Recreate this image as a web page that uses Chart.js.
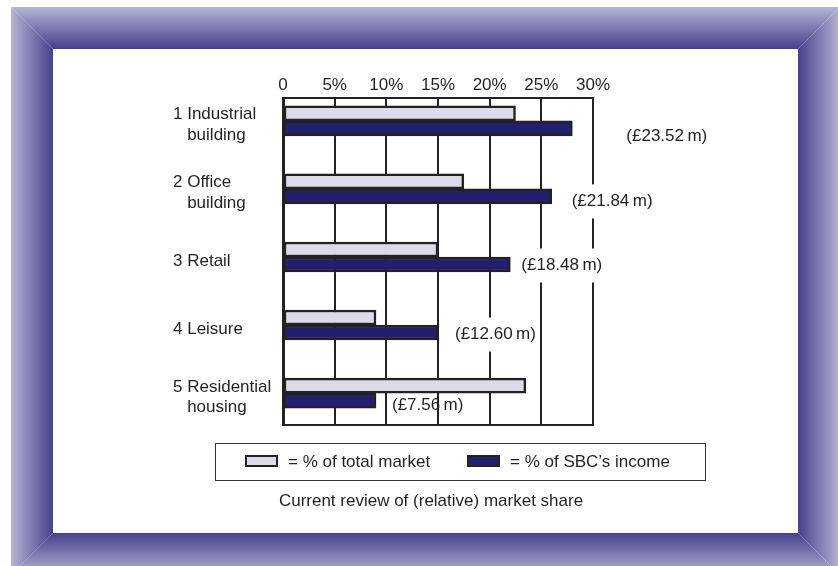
<!DOCTYPE html>
<html>
<head>
<meta charset="utf-8">
<title>Current review of (relative) market share</title>
<script src="https://cdn.jsdelivr.net/npm/chart.js@4.4.1/dist/chart.umd.min.js"></script>
<style>
  html, body { margin: 0; padding: 0; background: #fff; }
  #wrap { width: 838px; height: 566px; position: relative; }
</style>
</head>
<body>
<div id="wrap"><canvas id="share"></canvas></div>
<script>
// sector names (continuation lines indented under the name)
const sectors = [
  ['1 Industrial', '   building'],
  ['2 Office', '   building'],
  ['3 Retail'],
  ['4 Leisure'],
  ['5 Residential', '   housing']
];
const marketShare = [22.5, 17.5, 15, 9, 23.5];      // % of total market
const incomeShare = [28, 26, 22, 15, 9];            // % of SBC's income
const incomeMillions = [23.52, 21.84, 18.48, 12.60, 7.56];
const xTicks = [0, 5, 10, 15, 20, 25, 30];

const FONT = '"Liberation Sans", Arial, Helvetica, sans-serif';
const INK = '#222';
const TEXT = '#231f20';

// where each money label sits relative to the end of its income bar
const moneyNudge = [[54, 8], [20, 5], [11, 1], [17, 2], [16, 5]];
const moneyBoxed = [true, true, true, true, false];

// bevelled purple frame round the white panel
const framePlugin = {
  id: 'frame',
  beforeDraw(chart) {
    const ctx = chart.ctx;
    const o = { l: 11, t: 7, r: 840, b: 575 };
    const i = { l: 53, t: 49, r: 798, b: 533 };
    const light = '#b6b4d7', dark = '#46418c';
    ctx.save();
    ctx.fillStyle = '#fff';
    ctx.fillRect(0, 0, chart.width, chart.height);
    const sides = [
      { pts: [[o.l, o.t], [o.r, o.t], [i.r, i.t], [i.l, i.t]], g: [0, o.t, 0, i.t] },
      { pts: [[o.l, o.t], [i.l, i.t], [i.l, i.b], [o.l, o.b]], g: [o.l, 0, i.l, 0] },
      { pts: [[o.r, o.t], [o.r, o.b], [i.r, i.b], [i.r, i.t]], g: [o.r, 0, i.r, 0] },
      { pts: [[o.l, o.b], [i.l, i.b], [i.r, i.b], [o.r, o.b]], g: [0, o.b, 0, i.b] }
    ];
    sides.forEach(s => {
      const grad = ctx.createLinearGradient(...s.g);
      grad.addColorStop(0, light);
      grad.addColorStop(1, dark);
      ctx.fillStyle = grad;
      ctx.beginPath();
      s.pts.forEach((p, k) => k ? ctx.lineTo(p[0], p[1]) : ctx.moveTo(p[0], p[1]));
      ctx.closePath();
      ctx.fill();
    });
    ctx.restore();
  }
};

// "(£xx.xx m)" labels next to the income bars
const moneyPlugin = {
  id: 'money',
  afterDatasetsDraw(chart) {
    const ctx = chart.ctx;
    const bars = chart.getDatasetMeta(1).data;
    ctx.save();
    ctx.font = '17px ' + FONT;
    ctx.textBaseline = 'middle';
    ctx.textAlign = 'left';
    bars.forEach((bar, k) => {
      const text = '(£' + incomeMillions[k].toFixed(2) + '\u2009m)';
      const x = bar.x + moneyNudge[k][0];
      const y = bar.y + moneyNudge[k][1];
      const w = ctx.measureText(text).width;
      if (moneyBoxed[k]) {
        ctx.fillStyle = '#fff';
        ctx.fillRect(x - 2, y - 17, w + 4, 34);
      }
      ctx.fillStyle = TEXT;
      ctx.fillText(text, x, y);
    });
    ctx.restore();
  }
};

// boxed key and caption under the plot
const keyPlugin = {
  id: 'key',
  afterDraw(chart) {
    const ctx = chart.ctx;
    ctx.save();
    ctx.strokeStyle = '#333';
    ctx.lineWidth = 1;
    ctx.strokeRect(215.5, 443.5, 490, 37);
    const swatchX = [245, 467];
    ctx.font = '17px ' + FONT;
    ctx.textBaseline = 'middle';
    ctx.textAlign = 'left';
    chart.data.datasets.forEach((ds, k) => {
      ctx.fillStyle = ds.backgroundColor;
      ctx.fillRect(swatchX[k], 455, 33, 12);
      ctx.strokeStyle = INK;
      ctx.lineWidth = 2;
      ctx.strokeRect(swatchX[k] + 1, 456, 31, 10);
      ctx.fillStyle = TEXT;
      ctx.fillText(ds.label, swatchX[k] + 43, 462);
    });
    ctx.textAlign = 'center';
    ctx.fillText('Current review of (relative) market share', 431, 501);
    ctx.restore();
  }
};

new Chart(document.getElementById('share'), {
  type: 'bar',
  data: {
    datasets: [
      {
        label: '= % of total market',
        data: marketShare.map((v, i) => ({ x: v, y: i })),
        backgroundColor: '#dcdbe9',
        borderColor: INK,
        borderWidth: 2.5,
        borderSkipped: false,
        barThickness: 15
      },
      {
        label: '= % of SBC\u2019s income',
        data: incomeShare.map((v, i) => ({ x: v, y: i })),
        backgroundColor: '#221f6e',
        borderColor: INK,
        borderWidth: 2.5,
        borderSkipped: false,
        barThickness: 15
      }
    ]
  },
  options: {
    indexAxis: 'y',
    responsive: true,
    maintainAspectRatio: false,
    animation: false,
    layout: { padding: { left: 173, right: 245, top: 68, bottom: 141 } },
    plugins: {
      legend: { display: false },
      tooltip: { enabled: false }
    },
    scales: {
      x: {
        type: 'linear',
        position: 'top',
        min: 0,
        max: 30,
        afterBuildTicks: s => { s.ticks = xTicks.map(v => ({ value: v })); },
        afterFit: s => { s.height = 30; },
        ticks: {
          padding: 2,
          color: TEXT,
          font: { family: FONT, size: 17 },
          callback: v => v === 0 ? '0' : v + '%'
        },
        grid: { color: INK, lineWidth: 2, drawTicks: false },
        border: { color: INK, width: 2 }
      },
      xEdge: {
        type: 'linear',
        position: 'bottom',
        min: 0,
        max: 30,
        afterFit: s => { s.height = 0; },
        ticks: { display: false },
        grid: { display: false, drawTicks: false },
        border: { color: INK, width: 2 }
      },
      y: {
        type: 'linear',
        reverse: true,
        offset: false,
        min: -0.3365,
        max: 4.469,
        afterBuildTicks: s => { s.ticks = sectors.map((_, i) => ({ value: i })); },
        afterFit: s => { s.width = 110; },
        ticks: {
          autoSkip: false,
          crossAlign: 'far',
          labelOffset: 4,
          color: TEXT,
          font: { family: FONT, size: 17 },
          callback: v => sectors[v]
        },
        grid: { display: false },
        border: { color: INK, width: 3 }
      }
    }
  },
  plugins: [framePlugin, moneyPlugin, keyPlugin]
});
</script>
</body>
</html>
